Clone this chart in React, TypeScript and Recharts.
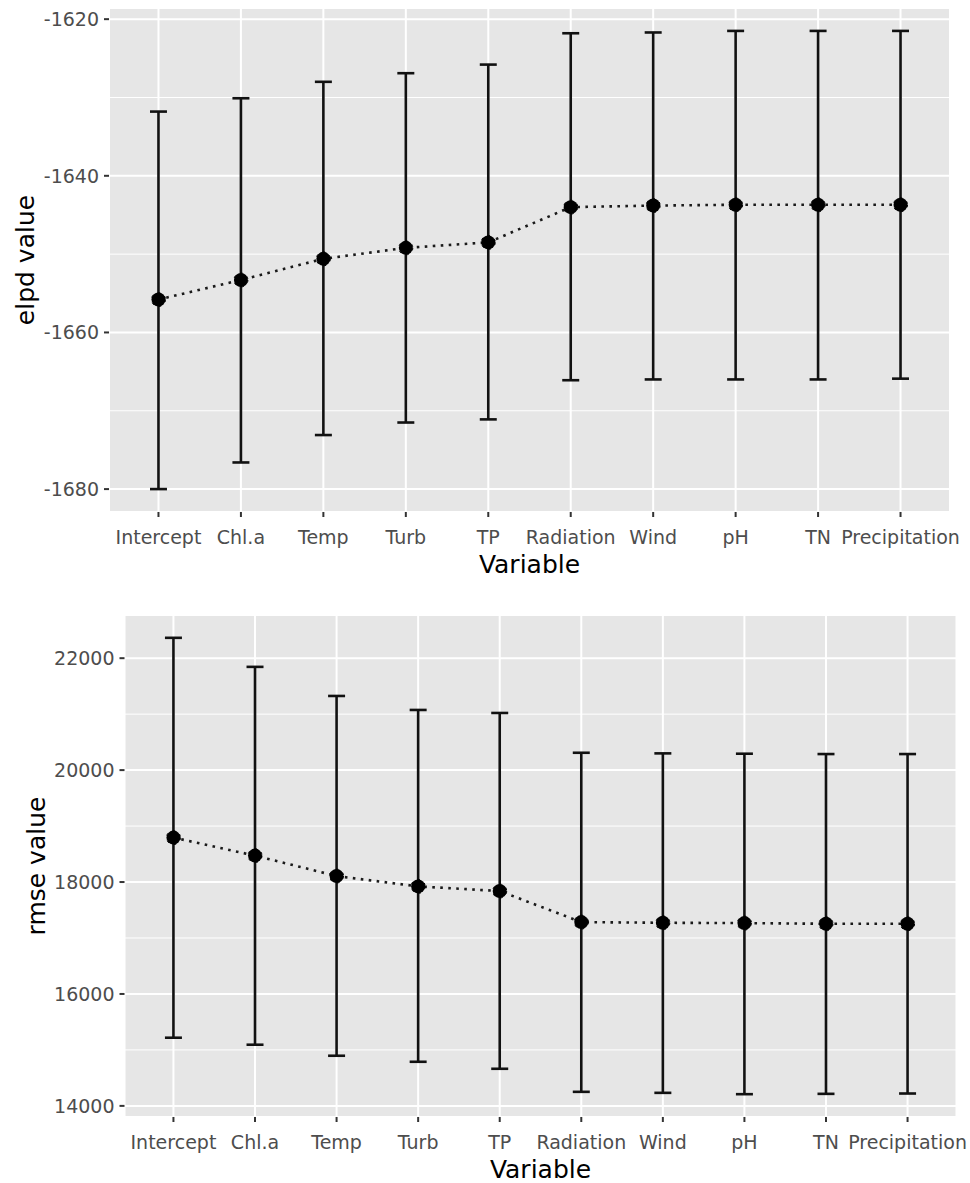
import React from "react";
import {
  ComposedChart,
  Line,
  ErrorBar,
  XAxis,
  YAxis,
  CartesianGrid,
  ReferenceLine,
  Label,
} from "recharts";

const FONT = "'DejaVu Sans', sans-serif";

// variables in selection order
const variables = [
  "Intercept",
  "Chl.a",
  "Temp",
  "Turb",
  "TP",
  "Radiation",
  "Wind",
  "pH",
  "TN",
  "Precipitation",
];
const positions = [1, 2, 3, 4, 5, 6, 7, 8, 9, 10];

const elpdMean = [-1655.8, -1653.3, -1650.6, -1649.2, -1648.5, -1644.0, -1643.8, -1643.7, -1643.7, -1643.7];
const elpdLower = [-1680.0, -1676.6, -1673.1, -1671.5, -1671.1, -1666.1, -1666.0, -1666.0, -1666.0, -1665.9];
const elpdUpper = [-1631.8, -1630.1, -1628.0, -1626.9, -1625.8, -1621.8, -1621.7, -1621.5, -1621.5, -1621.5];
const elpdTicks = [-1680, -1660, -1640, -1620];
const elpdMinor = [-1670, -1650, -1630];

const rmseMean = [18794, 18472, 18107, 17922, 17839, 17284, 17272, 17266, 17254, 17254];
const rmseLower = [15218, 15093, 14896, 14788, 14663, 14251, 14233, 14209, 14215, 14221];
const rmseUpper = [22364, 21845, 21325, 21075, 21021, 20310, 20299, 20293, 20287, 20287];
const rmseTicks = [14000, 16000, 18000, 20000, 22000];
const rmseMinor = [15000, 17000, 19000, 21000];

interface PanelProps {
  mean: number[];
  lower: number[];
  upper: number[];
  yTicks: number[];
  yMinor: number[];
  yLabel: string;
  height: number;
  margin: { top: number; right: number; bottom: number; left: number };
  yAxisWidth: number;
  xAxisHeight: number;
  yTitleX: number;
}

function Panel({
  mean,
  lower,
  upper,
  yTicks,
  yMinor,
  yLabel,
  height,
  margin,
  yAxisWidth,
  xAxisHeight,
  yTitleX,
}: PanelProps) {
  const rows = variables.map((v, i) => ({
    idx: positions[i],
    name: v,
    mean: mean[i],
    err: [mean[i] - lower[i], upper[i] - mean[i]],
  }));

  // ggplot-like 5% expansion
  const lo = Math.min(...lower);
  const hi = Math.max(...upper);
  const pad = (hi - lo) * 0.05;

  return (
    <ComposedChart width={970} height={height} data={rows} margin={margin}>
      <CartesianGrid fill="#E6E6E6" fillOpacity={1} stroke="#FFFFFF" strokeWidth={2} />
      {yMinor.map((v) => (
        <ReferenceLine key={v} y={v} stroke="#FFFFFF" strokeWidth={1} />
      ))}
      <XAxis
        type="number"
        dataKey="idx"
        domain={[0.4, 10.6]}
        ticks={positions}
        allowDataOverflow
        interval={0}
        tickFormatter={(i: number) => variables[i - 1]}
        axisLine={false}
        tickSize={5}
        tickMargin={14}
        tickLine={{ stroke: "#333333", strokeWidth: 2 }}
        tick={{ fontSize: 19, fill: "#4D4D4D", fontFamily: FONT }}
        height={xAxisHeight}
        label={
          <Label
            content={({ viewBox }: any) => (
              <text
                x={viewBox.x + viewBox.width / 2}
                y={viewBox.y + 61}
                textAnchor="middle"
                fontSize={25}
                fontFamily={FONT}
                fill="#000"
              >
                Variable
              </text>
            )}
          />
        }
      />
      <YAxis
        type="number"
        domain={[lo - pad, hi + pad]}
        ticks={yTicks}
        allowDataOverflow
        interval={0}
        axisLine={false}
        tickSize={5}
        tickMargin={5}
        tickLine={{ stroke: "#333333", strokeWidth: 2 }}
        tick={{ fontSize: 19, fill: "#4D4D4D", fontFamily: FONT }}
        width={yAxisWidth}
        label={
          <Label
            content={({ viewBox }: any) => {
              const cy = viewBox.y + viewBox.height / 2;
              return (
                <text
                  x={yTitleX}
                  y={cy}
                  transform={`rotate(-90, ${yTitleX}, ${cy})`}
                  textAnchor="middle"
                  dominantBaseline="central"
                  fontSize={25}
                  fontFamily={FONT}
                  fill="#000"
                >
                  {yLabel}
                </text>
              );
            }}
          />
        }
      />
      <Line
        type="linear"
        dataKey="mean"
        stroke="#1A1A1A"
        strokeWidth={2.6}
        strokeDasharray="2.6 5.4"
        dot={{ r: 7, fill: "#000", stroke: "#000", strokeWidth: 1 }}
        activeDot={false}
        isAnimationActive={false}
      >
        <ErrorBar dataKey="err" direction="y" width={8.5} strokeWidth={2.6} stroke="#111111" />
      </Line>
    </ComposedChart>
  );
}

export default function App() {
  return (
    <div
      style={{
        position: "absolute",
        left: 0,
        top: 0,
        width: 970,
        height: 1183,
        background: "#fff",
      }}
    >
      <Panel
        mean={elpdMean}
        lower={elpdLower}
        upper={elpdUpper}
        yTicks={elpdTicks}
        yMinor={elpdMinor}
        yLabel="elpd value"
        height={590}
        margin={{ top: 8, right: 20, bottom: 0, left: 0 }}
        yAxisWidth={109}
        xAxisHeight={78}
        yTitleX={25}
      />
      <Panel
        mean={rmseMean}
        lower={rmseLower}
        upper={rmseUpper}
        yTicks={rmseTicks}
        yMinor={rmseMinor}
        yLabel="rmse value"
        height={593}
        margin={{ top: 25, right: 13.5, bottom: 0, left: 0 }}
        yAxisWidth={124.5}
        xAxisHeight={66}
        yTitleX={36}
      />
    </div>
  );
}
